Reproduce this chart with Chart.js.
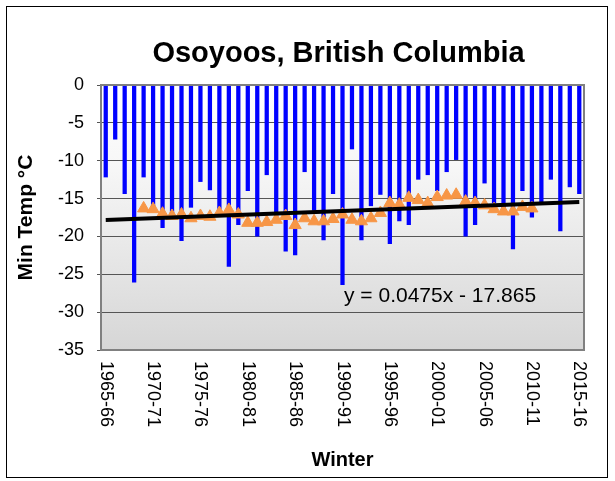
<!DOCTYPE html>
<html>
<head>
<meta charset="utf-8">
<script src="https://cdn.jsdelivr.net/npm/chart.js@4"></script>
<style>
  body { margin: 0; background: #fff; }
  #wrap { width: 615px; height: 481px; }
</style>
</head>
<body>
<div id="wrap"><canvas id="myChart" width="615" height="481"></canvas></div>
<script>
const winters = [
  '1965-66','1966-67','1967-68','1968-69','1969-70','1970-71','1971-72','1972-73','1973-74','1974-75',
  '1975-76','1976-77','1977-78','1978-79','1979-80','1980-81','1981-82','1982-83','1983-84','1984-85',
  '1985-86','1986-87','1987-88','1988-89','1989-90','1990-91','1991-92','1992-93','1993-94','1994-95',
  '1995-96','1996-97','1997-98','1998-99','1999-00','2000-01','2001-02','2002-03','2003-04','2004-05',
  '2005-06','2006-07','2007-08','2008-09','2009-10','2010-11','2011-12','2012-13','2013-14','2014-15',
  '2015-16'
]

// winter minimum temperature, deg C
const minTemps = [
  -12.2, -7.2, -14.4, -26.1, -12.2, -16.3, -18.9, -17.3, -20.6, -16.2,
  -12.8, -13.9, -16.6, -24.0, -18.5, -14.0, -20.0, -11.9, -17.3, -22.0,
  -22.5, -11.5, -16.6, -20.5, -14.4, -26.4, -8.5, -20.5, -16.0, -14.5,
  -21.0, -18.0, -18.5, -12.5, -11.9, -14.0, -11.5, -9.9, -20.0, -18.5,
  -13.0, -15.6, -16.3, -21.7, -14.0, -17.5, -15.5, -12.5, -19.3, -13.5,
  -14.4
]

// moving average (orange triangles)
const avgTemps = [
  null, null, null, null, -16.3, -16.4, -17.0, -17.3, -17.1, -17.6,
  -17.3, -17.4, -16.9, -16.5, -17.1, -18.2, -18.2, -18.1, -17.8, -17.3,
  -18.5, -17.6, -18.0, -18.0, -17.7, -17.1, -17.8, -18.0, -17.6, -16.9,
  -15.6, -15.8, -14.9, -15.2, -15.6, -14.8, -14.6, -14.5, -15.4, -15.6,
  -15.9, -16.4, -16.7, -16.7, -16.1, -16.3, null, null, null, null,
  null
]

// linear trend, first and last winter
const trendEnds = [-17.82, -15.44]
const trendText = 'y = 0.0475x - 17.865'
const titleText = 'Osoyoos, British Columbia'
const labelEvery = 5

const FONT = 'Liberation Sans, Arial, sans-serif'
Chart.defaults.font.family = FONT
Chart.defaults.color = '#000'

const trendData = winters.map((w, i) => i === 0 ? trendEnds[0] : (i === winters.length - 1 ? trendEnds[1] : null))

const chartDeco = {
  id: 'chartDeco',
  beforeDraw(chart) {
    const { ctx, chartArea: a } = chart
    const g = ctx.createLinearGradient(0, a.top, 0, a.bottom)
    g.addColorStop(0, '#ffffff')
    g.addColorStop(0.3, '#f7f7f7')
    g.addColorStop(1, '#d6d6d6')
    ctx.save()
    ctx.fillStyle = g
    ctx.fillRect(a.left, a.top, a.width, a.height)
    ctx.restore()
  },
  afterDraw(chart) {
    const { ctx, chartArea: a, scales } = chart
    ctx.save()
    // plot frame
    ctx.strokeStyle = '#808080'
    ctx.lineWidth = 2
    ctx.strokeRect(a.left, a.top, a.width, a.height)
    // outer frame
    ctx.strokeStyle = '#000'
    ctx.lineWidth = 1
    ctx.strokeRect(6.5, 6.5, 601, 471)
    // title, centred over the plot
    ctx.fillStyle = '#000'
    ctx.font = 'bold 29px ' + FONT
    ctx.textAlign = 'center'
    ctx.textBaseline = 'middle'
    ctx.fillText(titleText, (a.left + a.right) / 2 - 4, 54)
    // x labels, rotated clockwise
    ctx.font = '18px ' + FONT
    ctx.textAlign = 'left'
    winters.forEach((w, i) => {
      if (i % labelEvery) return
      ctx.save()
      ctx.translate(scales.x.getPixelForValue(i), a.bottom + 11)
      ctx.rotate(Math.PI / 2)
      ctx.fillText(w, 0, 0)
      ctx.restore()
    })
    // trend equation
    ctx.font = '21px ' + FONT
    ctx.textAlign = 'center'
    ctx.fillText(trendText, scales.x.getPixelForValue(35.3), scales.y.getPixelForValue(-27.9))
    ctx.restore()
  }
}

const ctx = document.getElementById('myChart')

const config = {
  type: 'bar',
  plugins: [chartDeco],
  data: {
    labels: winters,
    datasets: [
      {
        type: 'line',
        label: 'Trend',
        data: trendData,
        spanGaps: true,
        borderColor: '#000',
        borderWidth: 4,
        pointRadius: 0,
        order: 0
      },
      {
        type: 'line',
        label: 'Average',
        data: avgTemps,
        showLine: false,
        pointStyle: 'triangle',
        pointRadius: 7,
        backgroundColor: '#F79646',
        borderColor: '#F79646',
        borderWidth: 1,
        order: 1
      },
      {
        label: 'Min Temp',
        data: minTemps,
        backgroundColor: '#0000FF',
        barPercentage: 0.5,
        categoryPercentage: 0.9,
        order: 2
      }
    ]
  },
  options: {
    responsive: false,
    animation: false,
    layout: { padding: { left: 10, right: 31, top: 85, bottom: 8 } },
    scales: {
      x: {
        grid: { display: false },
        border: { display: true, color: '#808080', width: 2 },
        ticks: { display: false },
        title: {
          display: true,
          text: 'Winter',
          font: { size: 20, weight: 'bold' },
          padding: { top: 0, bottom: 1 }
        },
        afterFit: (s) => { s.height = 123 }
      },
      y: {
        min: -35,
        max: 0,
        ticks: { stepSize: 5, padding: 13, font: { size: 18 } },
        grid: { color: '#555', lineWidth: 1, tickLength: 4 },
        border: { display: true, color: '#808080', width: 2 },
        title: {
          display: true,
          text: 'Min Temp °C',
          font: { size: 21, weight: 'bold' },
          padding: { top: 4, bottom: 0 }
        },
        afterFit: (s) => { s.width = 91 }
      }
    },
    plugins: {
      legend: { display: false },
      tooltip: { enabled: false },
      title: { display: false }
    }
  }
}

new Chart(ctx, config)
</script>
</body>
</html>
